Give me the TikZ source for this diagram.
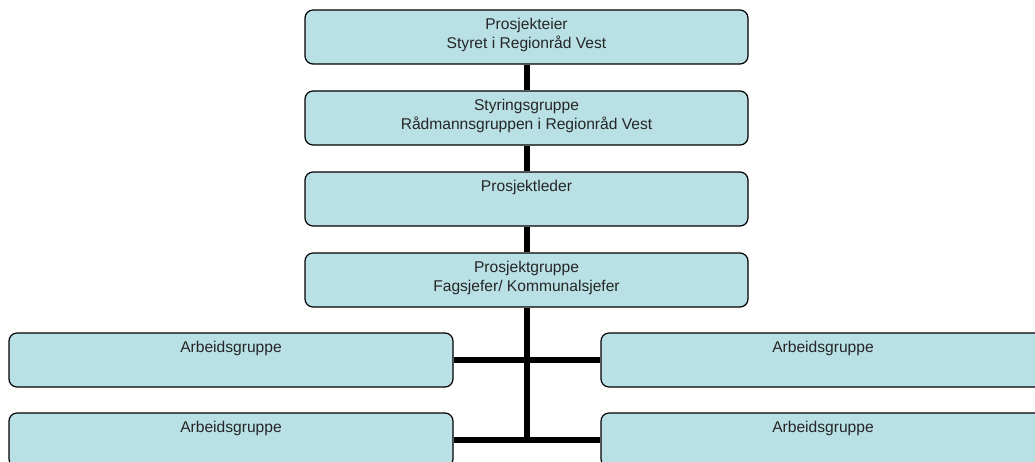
\documentclass[tikz,border=0pt]{standalone}
\usepackage{fontspec}
\setmainfont{Liberation Sans}
\definecolor{boxfill}{RGB}{185,224,228}
\newcommand{\boxtext}[2]{\parbox[c][#1pt][t]{440pt}{\centering\fontsize{15.6}{19}\selectfont\rule{0pt}{19pt}#2}}
\tikzset{
  orgbox/.style={draw=black, line width=1.2pt, fill=boxfill, rounded corners=8pt,
    inner sep=0pt, minimum height=54pt, text=black!85},
  topbox/.style={orgbox, minimum width=443pt},
  wbox/.style={orgbox, minimum width=444pt},
  link/.style={line width=6pt, black}
}
\begin{document}
\begin{tikzpicture}[x=1pt,y=-1pt]
\useasboundingbox (0,0) rectangle (1035,461);
\clip (0,0) rectangle (1035,461);
\node[topbox] (b1) at (526.5,37) {\boxtext{54}{Prosjekteier\\Styret i Regionråd Vest}};
\node[topbox] (b2) at (526.5,118) {\boxtext{54}{Styringsgruppe\\Rådmannsgruppen i Regionråd Vest}};
\node[topbox] (b3) at (526.5,199) {\boxtext{54}{Prosjektleder}};
\node[topbox] (b4) at (526.5,280) {\boxtext{54}{Prosjektgruppe\\Fagsjefer/ Kommunalsjefer}};
\node[wbox] (a1) at (231,360) {\boxtext{54}{Arbeidsgruppe}};
\node[wbox] (a2) at (823,360) {\boxtext{54}{Arbeidsgruppe}};
\node[wbox] (a3) at (231,440) {\boxtext{54}{Arbeidsgruppe}};
\node[wbox] (a4) at (823,440) {\boxtext{54}{Arbeidsgruppe}};
\coordinate (trunkend) at (526.5,443);
\draw[link] (b1.south) -- (b2.north);
\draw[link] (b2.south) -- (b3.north);
\draw[link] (b3.south) -- (b4.north);
\draw[link] (b4.south) -- (trunkend);
\draw[link] (a1.east) -- (a2.west);
\draw[link] (a3.east) -- (a4.west);
\end{tikzpicture}
\end{document}
